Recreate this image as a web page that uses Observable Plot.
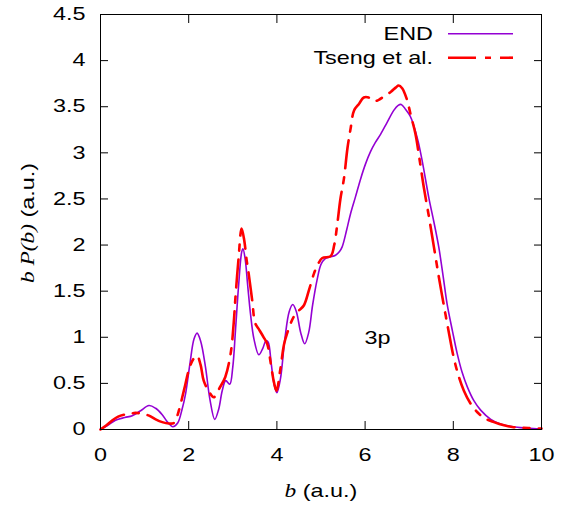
<!DOCTYPE html>
<html>
<head>
<meta charset="utf-8">
<script src="https://cdn.jsdelivr.net/npm/d3@7"></script>
<script src="https://cdn.jsdelivr.net/npm/@observablehq/plot@0.6"></script>
<style>
  body { margin: 0; background: #fff; }
  #chart svg { display: block; }
</style>
</head>
<body>
<div id="chart"></div>
<script>
// Impact-parameter distribution b P(b) for the 3p shell: END vs. Tseng et al.
const bEnd = [0, 0.15, 0.34, 0.55, 0.72, 0.9, 1.1, 1.25, 1.4, 1.52, 1.64, 1.75, 1.85, 1.93, 2.03, 2.12, 2.19, 2.27, 2.38, 2.48, 2.59, 2.68, 2.76, 2.84, 2.93, 3.0, 3.06, 3.13, 3.2, 3.23, 3.28, 3.34, 3.4, 3.48, 3.59, 3.68, 3.75, 3.8, 3.87, 3.94, 4.0, 4.08, 4.18, 4.28, 4.36, 4.44, 4.54, 4.63, 4.72, 4.81, 4.91, 5.0, 5.09, 5.2, 5.33, 5.42, 5.48, 5.58, 5.67, 5.78, 5.9, 6.01, 6.12, 6.23, 6.35, 6.5, 6.65, 6.75, 6.82, 6.92, 7.02, 7.1, 7.2, 7.3, 7.45, 7.56, 7.67, 7.77, 7.86, 7.98, 8.09, 8.2, 8.32, 8.47, 8.62, 8.85, 9.07, 9.35, 9.67, 10];
const pEnd = [0.005, 0.04, 0.1, 0.13, 0.15, 0.2, 0.26, 0.23, 0.16, 0.08, 0.03, 0.07, 0.22, 0.39, 0.72, 0.98, 1.045, 0.96, 0.68, 0.33, 0.11, 0.22, 0.42, 0.53, 0.49, 0.68, 1.07, 1.55, 1.92, 1.96, 1.85, 1.55, 1.26, 0.98, 0.81, 0.88, 0.96, 0.95, 0.72, 0.48, 0.4, 0.55, 0.98, 1.28, 1.355, 1.28, 1.05, 0.93, 1.05, 1.35, 1.62, 1.79, 1.85, 1.87, 1.89, 1.93, 1.98, 2.16, 2.34, 2.52, 2.72, 2.88, 3.01, 3.11, 3.2, 3.33, 3.46, 3.515, 3.525, 3.47, 3.4, 3.3, 3.13, 2.9, 2.5, 2.25, 1.98, 1.66, 1.36, 1.07, 0.82, 0.62, 0.46, 0.31, 0.21, 0.11, 0.06, 0.03, 0.015, 0.005];

const bTseng = [0, 0.12, 0.27, 0.4, 0.53, 0.66, 0.79, 0.95, 1.1, 1.25, 1.4, 1.55, 1.66, 1.72, 1.78, 1.9, 2.0, 2.1, 2.19, 2.27, 2.34, 2.45, 2.57, 2.7, 2.83, 2.95, 3.02, 3.06, 3.13, 3.2, 3.26, 3.31, 3.36, 3.44, 3.51, 3.6, 3.7, 3.78, 3.86, 3.93, 3.99, 4.08, 4.16, 4.23, 4.38, 4.5, 4.61, 4.72, 4.84, 4.94, 5.03, 5.22, 5.3, 5.37, 5.44, 5.52, 5.6, 5.67, 5.75, 5.86, 5.97, 6.08, 6.2, 6.31, 6.45, 6.58, 6.7, 6.76, 6.84, 6.94, 7.04, 7.14, 7.25, 7.33, 7.45, 7.56, 7.67, 7.78, 7.9, 8.01, 8.12, 8.24, 8.38, 8.54, 8.72, 8.92, 9.15, 9.37, 9.7, 10];
const pTseng = [0, 0.04, 0.1, 0.14, 0.16, 0.17, 0.18, 0.17, 0.15, 0.11, 0.08, 0.065, 0.07, 0.12, 0.21, 0.44, 0.64, 0.76, 0.8, 0.7, 0.53, 0.42, 0.35, 0.45, 0.57, 0.82, 1.15, 1.43, 1.85, 2.18, 2.05, 1.85, 1.69, 1.4, 1.15, 1.08, 1.0, 0.93, 0.72, 0.52, 0.42, 0.66, 0.92, 1.04, 1.22, 1.29, 1.345, 1.5, 1.69, 1.8, 1.86, 1.88, 2.0, 2.23, 2.5, 2.72, 3.05, 3.26, 3.46, 3.53, 3.6, 3.6, 3.56, 3.575, 3.62, 3.66, 3.71, 3.73, 3.7, 3.59, 3.4, 3.21, 2.88, 2.63, 2.3, 1.98, 1.66, 1.36, 1.05, 0.78, 0.58, 0.42, 0.29, 0.19, 0.12, 0.08, 0.045, 0.025, 0.015, 0.01];

const xTicks = [0, 2, 4, 6, 8, 10];
const yTicks = [0, 0.5, 1, 1.5, 2, 2.5, 3, 3.5, 4, 4.5];
const seriesNames = ["END", "Tseng et al."];
const seriesColors = ["#9400d3", "#ff0000"];
const tsengDash = "28,9,6,9";
const panelLabel = "3p";

const endRows = bEnd.map((b, i) => ({b, p: pEnd[i]}));
const tsengRows = bTseng.map((b, i) => ({b, p: pTseng[i]}));

const sans = "'Liberation Sans', Arial, Helvetica, sans-serif";
const serif = "'Liberation Serif', 'Times New Roman', serif";

const chart = Plot.plot({
  width: 570,
  height: 505,
  marginLeft: 100,
  marginRight: 29,
  marginTop: 14,
  marginBottom: 76,
  style: {fontFamily: sans, fontSize: "18px", background: "#fff", color: "#000", overflow: "visible"},
  x: {domain: [0, 10]},
  y: {domain: [0, 4.5]},
  marks: [
    Plot.axisX(xTicks, {anchor: "bottom", tickSize: -8, tickPadding: 27, label: null, fontSize: 18}),
    Plot.axisX(xTicks, {anchor: "top", tickSize: -8, tickFormat: () => "", label: null}),
    Plot.axisY(yTicks, {anchor: "left", tickSize: -8, tickPadding: 23, tickFormat: d => String(d), label: null, fontSize: 18}),
    Plot.axisY(yTicks, {anchor: "right", tickSize: -8, tickFormat: () => "", label: null}),
    Plot.line(endRows, {x: "b", y: "p", stroke: seriesColors[0], strokeWidth: 1.6, curve: "catmull-rom"}),
    Plot.line(tsengRows, {x: "b", y: "p", stroke: seriesColors[1], strokeWidth: 2.6, strokeDasharray: tsengDash, curve: "catmull-rom"}),
    Plot.text([panelLabel], {x: 6.28, y: 0.99, text: d => d, fontSize: 18, fill: "#000"}),
    Plot.frame({stroke: "#000", strokeWidth: 1})
  ]
});

document.getElementById("chart").append(chart);

// Axis titles with italic serif symbols, and the key in the upper right.
const svg = d3.select(chart);

const yTitle = svg.append("text")
  .attr("transform", "translate(34,223) rotate(-90)")
  .attr("text-anchor", "middle")
  .attr("font-size", 18)
  .attr("fill", "#000");
yTitle.append("tspan").attr("font-family", serif).attr("font-style", "italic").text("b P(b)");
yTitle.append("tspan").attr("font-family", sans).text(" (a.u.)");

const xTitle = svg.append("text")
  .attr("x", 321)
  .attr("y", 497)
  .attr("text-anchor", "middle")
  .attr("font-size", 18)
  .attr("fill", "#000");
xTitle.append("tspan").attr("font-family", serif).attr("font-style", "italic").text("b");
xTitle.append("tspan").attr("font-family", sans).text(" (a.u.)");

const key = svg.append("g").attr("font-family", sans).attr("font-size", 18);
const keyDash = [null, tsengDash];
const keyWidth = [1.6, 2.6];
seriesNames.forEach((name, i) => {
  const y = 33.7 + i * 24;
  key.append("text")
    .attr("x", 433).attr("y", y + 6.5)
    .attr("text-anchor", "end").attr("fill", "#000")
    .text(name);
  key.append("line")
    .attr("x1", 448).attr("x2", 513).attr("y1", y).attr("y2", y)
    .attr("stroke", seriesColors[i])
    .attr("stroke-width", keyWidth[i])
    .attr("stroke-dasharray", keyDash[i]);
});

// Widen every label horizontally about its own anchor point (broad lettering).
const stretch = 1.3;
svg.selectAll("text").each(function () {
  const bb = this.getBBox();
  const anchor = getComputedStyle(this).textAnchor;
  const ax = anchor === "end" ? bb.x + bb.width : anchor === "middle" ? bb.x + bb.width / 2 : bb.x;
  const t = this.getAttribute("transform") || "";
  this.setAttribute("transform", `${t} translate(${ax},0) scale(${stretch},1) translate(${-ax},0)`);
});
</script>
</body>
</html>
